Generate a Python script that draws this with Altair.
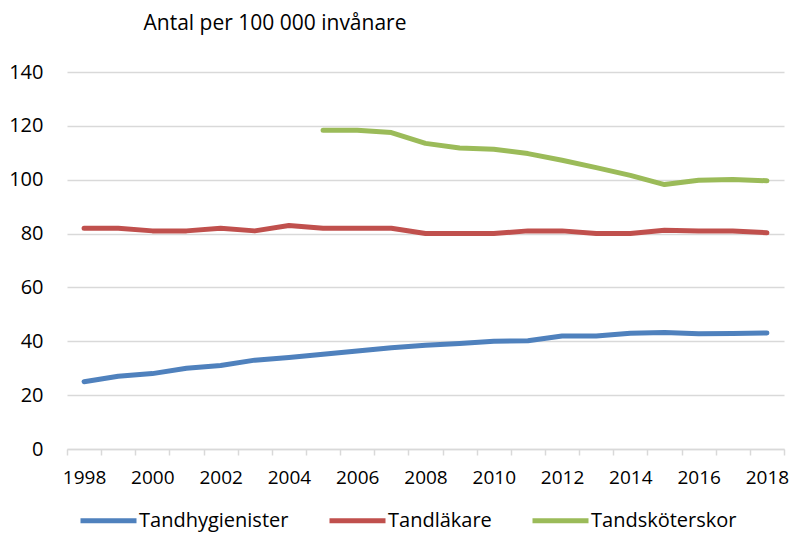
import altair as alt
import pandas as pd

years = list(range(1998, 2019))
tandhygienister = [25, 27, 28, 30, 31, 33, 34, 35.2, 36.4, 37.6, 38.5, 39.2, 40, 40.2, 42, 42, 43, 43.3, 42.8, 42.9, 43.1]
tandlakare = [82, 82, 81, 81, 82, 81, 83, 82, 82, 82, 80, 80, 80, 81, 81, 80, 80, 81.2, 81, 81, 80.3]
tandskoterskor = [None] * 7 + [118.4, 118.4, 117.5, 113.5, 111.8, 111.3, 109.7, 107.2, 104.5, 101.6, 98.2, 99.8, 100.1, 99.6]

series_names = ["Tandhygienister", "Tandläkare", "Tandsköterskor"]
series_colors = ["#4f81bd", "#c0504d", "#9bbb59"]

rows = []
for name, vals in zip(series_names, [tandhygienister, tandlakare, tandskoterskor]):
    for y, v in zip(years, vals):
        if v is not None:
            rows.append({"År": y, "Serie": name, "Värde": v})
df = pd.DataFrame(rows)

tick_vals = [y - 0.5 for y in years] + [2018.5]
FONT = "Open Sans"
W = 717
half_band = W / 21 / 2

chart = alt.Chart(df).mark_line(strokeWidth=5, strokeCap="round", strokeJoin="round").encode(
    x=alt.X("År:Q",
            scale=alt.Scale(domain=[1997.5, 2018.5], nice=False, zero=False),
            axis=alt.Axis(values=tick_vals, grid=False, title=None,
                          labelExpr="(datum.value + 0.5) % 2 == 0 && datum.value < 2018 ? format(datum.value + 0.5, 'd') : ''",
                          labelOffset=half_band, labelFlush=False, labelOverlap=False,
                          domainColor="#d9d9d9", domainWidth=1.5,
                          tickColor="#d9d9d9", tickWidth=1.5, tickSize=6,
                          labelPadding=13, labelFontSize=19, labelFont=FONT,
                          labelColor="#000000")),
    y=alt.Y("Värde:Q",
            scale=alt.Scale(domain=[0, 140], nice=False),
            axis=alt.Axis(values=[0, 20, 40, 60, 80, 100, 120, 140],
                          domain=False, ticks=False, grid=True,
                          gridColor="#d9d9d9", gridWidth=1.5,
                          labelPadding=24, labelFontSize=20, labelFont=FONT,
                          labelColor="#000000",
                          title="Antal per 100 000 invånare",
                          titleAngle=0, titleAlign="left", titleBaseline="alphabetic",
                          titleX=76, titleY=-43, titleFont=FONT, titleFontSize=21,
                          titleFontWeight="normal", titleColor="#000000")),
    color=alt.Color("Serie:N",
                    scale=alt.Scale(domain=series_names, range=series_colors),
                    legend=alt.Legend(title=None, orient="none", direction="horizontal",
                                      legendX=11, legendY=418,
                                      symbolType="stroke", symbolSize=3136,
                                      symbolStrokeWidth=5, columnPadding=30,
                                      labelFont=FONT, labelFontSize=20,
                                      labelColor="#000000", labelOffset=0,
                                      labelLimit=400)),
).properties(
    width=W, height=377,
    padding={"left": 59, "top": 64, "right": 5, "bottom": 88},
    autosize=alt.AutoSizeParams(type="none"),
).configure_view(stroke=None)

chart.save("out.html", embed_options={"renderer": "svg", "actions": False})
